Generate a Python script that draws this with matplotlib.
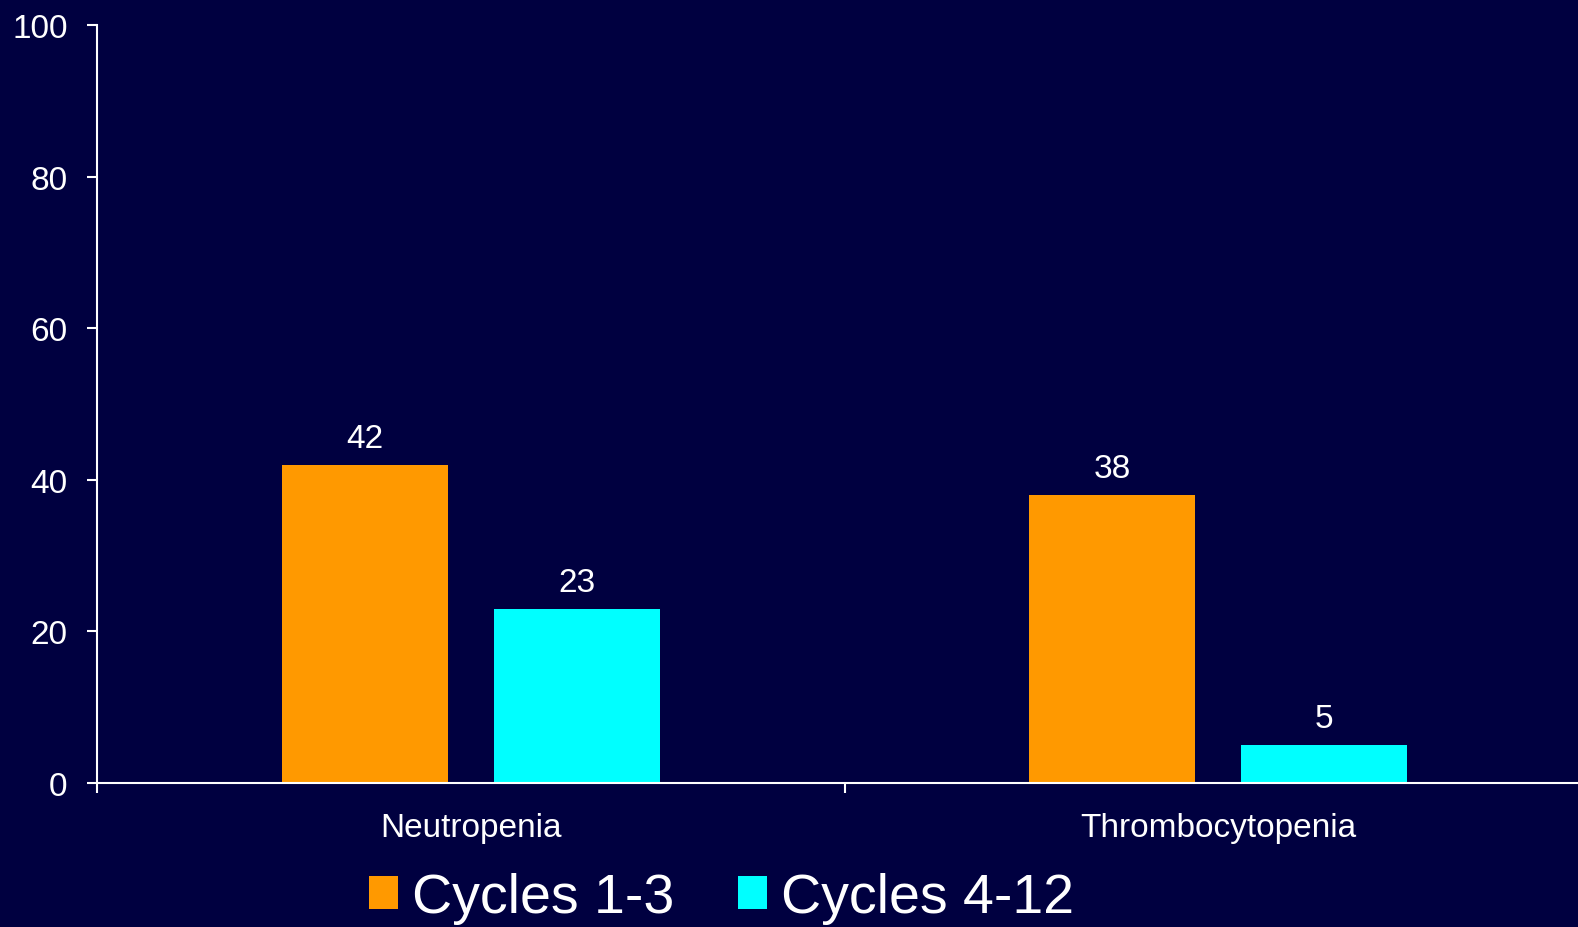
import numpy as np
import matplotlib
matplotlib.use('Agg')
import matplotlib.pyplot as plt
from matplotlib.patches import Patch

plt.rcParams['font.family'] = ['Liberation Sans', 'DejaVu Sans']

# data
categories = ['Neutropenia', 'Thrombocytopenia']
series_names = ['Cycles 1-3', 'Cycles 4-12']
cycles_1_3 = [42, 38]
cycles_4_12 = [23, 5]
yticks = [0, 20, 40, 60, 80, 100]

# styling
bg = '#000040'
colors = ['#FF9900', '#00FFFF']
bar_w = 0.222
offsets = [-0.1417, 0.1417]
fs = 24

W, H = 1578, 928
fig = plt.figure(figsize=(W / 100, H / 100), dpi=100, facecolor=bg)
# axes runs a bit past the right edge of the figure
ax = fig.add_axes([97 / W, 144 / H, (1592 - 97) / W, (784 - 26) / H])
ax.set_facecolor(bg)

x = np.arange(len(categories))
for vals, off, col in zip([cycles_1_3, cycles_4_12], offsets, colors):
    bars = ax.bar(x + off, vals, width=bar_w, color=col, linewidth=0, zorder=2)
    ax.bar_label(bars, labels=[str(v) for v in vals], padding=8,
                 color='white', fontsize=fs)

ax.set_xlim(-0.5, 1.5)
ax.set_ylim(0, 100)
ax.set_yticks(yticks)

ax.set_xticks([-0.5, 0.5, 1.5])
ax.set_xticklabels([])
ax.set_xticks(x, minor=True)
ax.set_xticklabels(categories, minor=True)

for s in ['top', 'right']:
    ax.spines[s].set_visible(False)
for s in ['left', 'bottom']:
    ax.spines[s].set_color('white')
    ax.spines[s].set_linewidth(1.5)
    ax.spines[s].set_zorder(3)

ax.tick_params(axis='y', which='major', direction='out', length=7.2, width=1.5,
               color='white', labelcolor='white', labelsize=fs, pad=14)
ax.tick_params(axis='x', which='major', direction='out', length=7.2, width=1.5,
               color='white')
ax.tick_params(axis='x', which='minor', length=0, labelcolor='white',
               labelsize=fs, pad=21)

handles = [Patch(facecolor=c, edgecolor='none') for c in colors]
fig.legend(handles, series_names, loc='lower left',
           bbox_to_anchor=(369 / W, 0.003), ncol=2, frameon=False,
           fontsize=40, labelcolor='white', handlelength=0.52,
           handleheight=0.52, handletextpad=0.25, columnspacing=1.15,
           borderpad=0, borderaxespad=0)

fig.savefig('out.png', dpi=100, facecolor=bg)
